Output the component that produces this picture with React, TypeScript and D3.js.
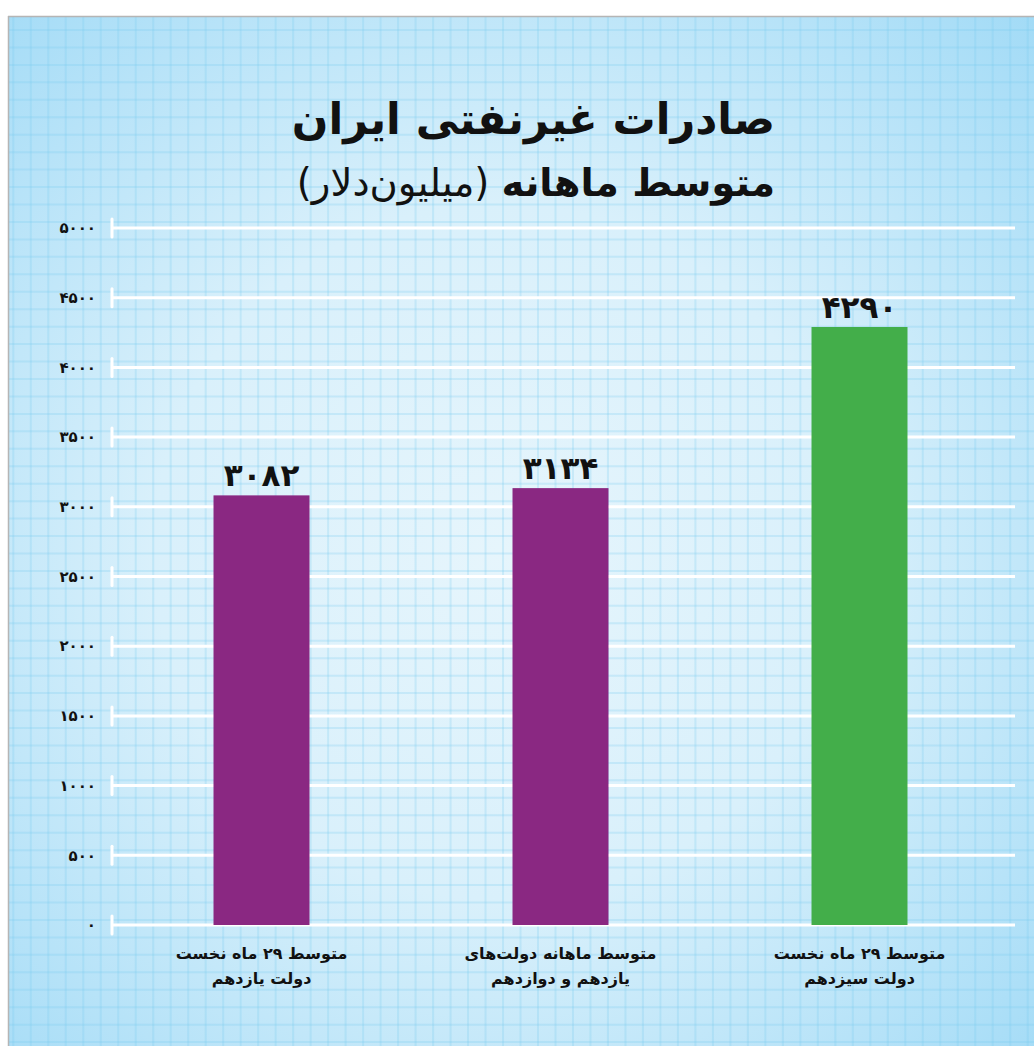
import React from "react";
import * as d3 from "d3";

const categoriesLine1 = ["متوسط ۲۹ ماه نخست", "متوسط ماهانه دولت‌های", "متوسط ۲۹ ماه نخست"];
const categoriesLine2 = ["دولت یازدهم", "یازدهم و دوازدهم", "دولت سیزدهم"];
const categoryKeys = ["a", "b", "c"];
const values = [3082, 3134, 4290];
const barColors = ["#8a2882", "#8a2882", "#43ae4a"];
const yTicks = [0, 500, 1000, 1500, 2000, 2500, 3000, 3500, 4000, 4500, 5000];
const titleText = "صادرات غیرنفتی ایران";
const subtitleBold = "متوسط ماهانه";
const subtitleRegular = " (میلیون‌دلار)";

const fa = (n: number) => String(n).replace(/\d/g, (d) => "۰۱۲۳۴۵۶۷۸۹"[+d]);

const W = 1034;
const H = 1046;
const FONT = "'DejaVu Sans', sans-serif";

export default function App() {
  const y = d3.scaleLinear().domain([0, 5000]).range([925, 228]);
  const x = d3
    .scaleBand<string>()
    .domain(categoryKeys)
    .range([112, 1009])
    .paddingInner(0.679)
    .paddingOuter(0.3395);

  const gx = d3.range(13.3, W, 17.49);
  const gy = d3.range(30, H, 17.45);

  return (
    <svg
      width={W}
      height={H}
      style={{ position: "absolute", left: 0, top: 0 }}
      fontFamily={FONT}
    >
      <defs>
        <radialGradient id="bg" cx="48%" cy="52%" r="75%">
          <stop offset="0%" stopColor="#e6f5fc" />
          <stop offset="45%" stopColor="#d9f0fb" />
          <stop offset="100%" stopColor="#a0daf6" />
        </radialGradient>
      </defs>
      <rect x={0} y={0} width={W} height={H} fill="#ffffff" />
      <rect x={8} y={16} width={W - 8} height={H - 16} fill="url(#bg)" />
      <g stroke="#78caf0" strokeOpacity={0.25} strokeWidth={2}>
        {gx.map((v, i) => (
          <line key={"gx" + i} x1={v} x2={v} y1={16} y2={H} />
        ))}
        {gy.map((v, i) => (
          <line key={"gy" + i} x1={8} x2={W} y1={v} y2={v} />
        ))}
      </g>
      <line x1={8.5} x2={8.5} y1={16} y2={H} stroke="#b5b5b5" strokeWidth={1.5} />
      <line x1={8} x2={W} y1={16.5} y2={16.5} stroke="#b5b5b5" strokeWidth={1.5} />

      {/* title */}
      <text
        x={775}
        y={134}
        direction="rtl"
        textAnchor="start"
        fontSize={43}
        fontWeight={700}
        fill="#111"
      >
        {titleText}
      </text>
      <text x={775} y={196} direction="rtl" textAnchor="start" fontSize={38.5} fill="#111">
        <tspan fontWeight={700}>{subtitleBold}</tspan>
        <tspan fontWeight={400}>{subtitleRegular}</tspan>
      </text>

      {/* grid lines + ticks */}
      {yTicks.map((t) => (
        <g key={"t" + t}>
          <line x1={112} x2={1015} y1={y(t)} y2={y(t)} stroke="#ffffff" strokeWidth={3} />
          <line x1={112} x2={112} y1={y(t) - 9} y2={y(t) + 9} stroke="#ffffff" strokeWidth={3} strokeLinecap="round" />
          <text x={96} y={y(t)} dy="0.35em" textAnchor="end" fontSize={15} fontWeight={600} fill="#111">
            {fa(t)}
          </text>
        </g>
      ))}

      {/* bars */}
      {values.map((v, i) => {
        const k = categoryKeys[i];
        const bx = x(k) as number;
        const bw = x.bandwidth();
        const cx = bx + bw / 2;
        return (
          <g key={"b" + k}>
            <rect x={bx} y={y(v)} width={bw} height={y(0) - y(v)} fill={barColors[i]} />
            <text x={cx} y={y(v) - 9} textAnchor="middle" fontSize={31} fontWeight={700} fill="#111">
              {fa(v)}
            </text>
            <text x={cx} y={959} textAnchor="middle" direction="rtl" fontSize={16} fontWeight={600} fill="#111">
              {categoriesLine1[i]}
            </text>
            <text x={cx} y={984} textAnchor="middle" direction="rtl" fontSize={16} fontWeight={600} fill="#111">
              {categoriesLine2[i]}
            </text>
          </g>
        );
      })}
    </svg>
  );
}
